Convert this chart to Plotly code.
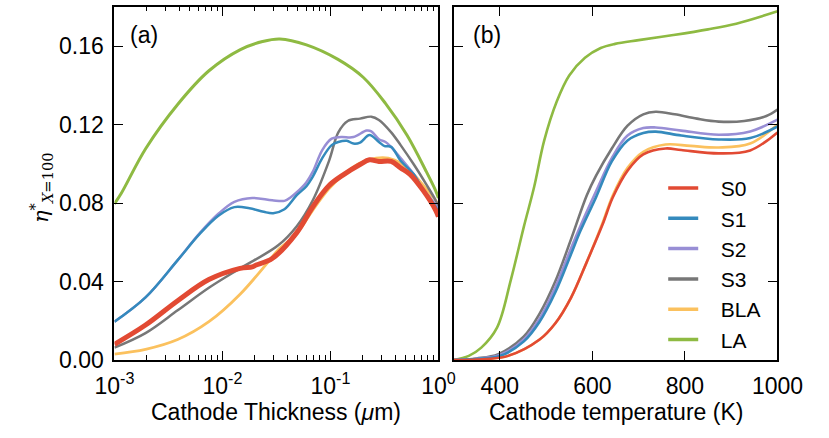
import plotly.graph_objects as go

# ---------------- data: panel (a) thickness sweep (um) ----------------
thk_s0 = [0.001, 0.00194, 0.00385, 0.00749, 0.01457, 0.0189, 0.0205, 0.0289, 0.0488, 0.0687, 0.0967, 0.1335, 0.188, 0.2299, 0.2812, 0.3653, 0.4468, 0.5464, 0.7246, 0.9414, 1.0]
eta_s0 = [0.0080, 0.0178, 0.0302, 0.0410, 0.0467, 0.0475, 0.0484, 0.0517, 0.0649, 0.0781, 0.0888, 0.0946, 0.0996, 0.1020, 0.1012, 0.1012, 0.0979, 0.0946, 0.0863, 0.0764, 0.0730]

thk_s1 = [0.001, 0.00194, 0.00385, 0.00613, 0.00917, 0.0129, 0.0178, 0.0241, 0.0295, 0.0375, 0.0488, 0.0597, 0.0687, 0.084, 0.1027, 0.1183, 0.1418, 0.1633, 0.188, 0.2299, 0.2812, 0.3173, 0.3653, 0.4468, 0.5923, 0.7246, 0.9414, 1.0]
eta_s1 = [0.0195, 0.0319, 0.0509, 0.0641, 0.0735, 0.0779, 0.0773, 0.0755, 0.0748, 0.0768, 0.0840, 0.0885, 0.0935, 0.1029, 0.1095, 0.1111, 0.1117, 0.1103, 0.1108, 0.1146, 0.1111, 0.1090, 0.1086, 0.1015, 0.0946, 0.0863, 0.0781, 0.0745]

thk_s2 = [0.001, 0.00194, 0.00385, 0.00613, 0.00917, 0.0129, 0.0189, 0.0289, 0.0375, 0.0432, 0.0488, 0.0597, 0.0687, 0.084, 0.1027, 0.1257, 0.1633, 0.2164, 0.2393, 0.2812, 0.3237, 0.3653, 0.4468, 0.5923, 0.7246, 0.9414, 1.0]
eta_s2 = [0.0195, 0.0319, 0.0509, 0.0645, 0.0745, 0.0806, 0.0826, 0.0814, 0.0811, 0.0831, 0.0855, 0.0905, 0.0960, 0.1070, 0.1128, 0.1136, 0.1136, 0.1169, 0.1165, 0.1125, 0.1111, 0.1085, 0.1029, 0.0946, 0.0870, 0.0790, 0.0755]

thk_s3 = [0.001, 0.00194, 0.00385, 0.00749, 0.01457, 0.0326, 0.0488, 0.0687, 0.0967, 0.1183, 0.1447, 0.188, 0.2393, 0.2812, 0.3653, 0.4468, 0.5923, 0.7697, 0.9414, 1.0]
eta_s3 = [0.0063, 0.0137, 0.0253, 0.0368, 0.0467, 0.0583, 0.0682, 0.0814, 0.1012, 0.1160, 0.1218, 0.1230, 0.1240, 0.1223, 0.1160, 0.1095, 0.0996, 0.0896, 0.0814, 0.0780]

thk_bla = [0.001, 0.00194, 0.00385, 0.00749, 0.01457, 0.0289, 0.0326, 0.0488, 0.0687, 0.0967, 0.1335, 0.188, 0.2647, 0.3439, 0.4468, 0.5923, 0.7697, 0.9414, 1.0]
eta_bla = [0.0030, 0.0054, 0.0104, 0.0195, 0.0335, 0.0525, 0.0560, 0.0645, 0.0764, 0.0872, 0.0946, 0.1004, 0.1029, 0.1029, 0.1004, 0.0946, 0.0872, 0.0814, 0.0790]

thk_la = [0.001, 0.00115, 0.00195, 0.00383, 0.0075, 0.01466, 0.0235, 0.034, 0.06, 0.1175, 0.201, 0.322, 0.514, 0.769, 0.942, 1.0]
eta_la = [0.0796, 0.0847, 0.1078, 0.1301, 0.1474, 0.1582, 0.1623, 0.1636, 0.1606, 0.1532, 0.1441, 0.1309, 0.1144, 0.0962, 0.0863, 0.0825]

# ---------------- data: panel (b) temperature sweep (K) ----------------
temp_s0 = [300, 350, 418, 486, 520, 554, 588, 622, 644, 676, 710, 758, 792, 873, 941, 1000]
tem_s0 = [0.0, 0.0002, 0.0021, 0.0104, 0.0187, 0.0318, 0.0500, 0.0690, 0.0828, 0.0965, 0.1048, 0.1078, 0.1070, 0.1053, 0.1068, 0.1160]

temp_s1 = [300, 350, 400, 452, 486, 520, 554, 574, 608, 642, 676, 710, 737, 792, 873, 941, 1000]
tem_s1 = [0.0, 0.0005, 0.002, 0.0095, 0.0195, 0.0345, 0.0540, 0.0657, 0.0830, 0.1012, 0.1119, 0.1157, 0.1164, 0.1144, 0.1124, 0.1131, 0.1190]

temp_s2 = [300, 350, 400, 452, 486, 520, 554, 574, 608, 642, 676, 710, 737, 792, 873, 941, 1000]
tem_s2 = [0.0, 0.0006, 0.0025, 0.0105, 0.0210, 0.0370, 0.0570, 0.0682, 0.0860, 0.1029, 0.1144, 0.1182, 0.1185, 0.1169, 0.1148, 0.1165, 0.1225]

temp_s3 = [300, 350, 397, 452, 486, 520, 554, 588, 608, 642, 676, 710, 737, 778, 826, 873, 928, 976, 1000]
tem_s3 = [0.0, 0.0008, 0.003, 0.012, 0.0236, 0.0401, 0.0616, 0.0840, 0.0940, 0.1078, 0.1194, 0.1252, 0.1265, 0.1252, 0.1230, 0.1215, 0.1218, 0.1243, 0.1276]

temp_bla = [300, 350, 418, 486, 520, 554, 588, 622, 644, 676, 710, 758, 812, 873, 941, 1000]
tem_bla = [0.0, 0.0002, 0.0021, 0.0104, 0.0187, 0.0318, 0.0500, 0.0698, 0.0838, 0.0979, 0.1061, 0.1098, 0.1091, 0.1083, 0.1103, 0.1200]

temp_la = [300, 333, 360, 394, 424, 452, 474, 496, 523, 550, 584, 618, 649, 700, 775, 850, 911, 1000]
tem_la = [0.0, 0.0021, 0.0063, 0.0165, 0.041, 0.068, 0.088, 0.1119, 0.1317, 0.145, 0.154, 0.159, 0.1611, 0.1630, 0.1656, 0.1685, 0.1714, 0.1777]

names = ["S0", "S1", "S2", "S3", "BLA", "LA"]
colors = ["#E24A33", "#348ABD", "#988ED5", "#777777", "#FBC15E", "#8EBA42"]
left = [(thk_s0, eta_s0), (thk_s1, eta_s1), (thk_s2, eta_s2), (thk_s3, eta_s3), (thk_bla, eta_bla), (thk_la, eta_la)]
right = [(temp_s0, tem_s0), (temp_s1, tem_s1), (temp_s2, tem_s2), (temp_s3, tem_s3), (temp_bla, tem_bla), (temp_la, tem_la)]
left_widths = [5, 2.5, 2.5, 2.5, 2.8, 3]

W, H = 829, 438
def px(x):
    return x / W
def py(y):
    return 1 - y / H

fig = go.Figure()
order = [5, 4, 3, 2, 1, 0]
for i in order:
    xs, ys = left[i]
    fig.add_trace(go.Scatter(x=xs, y=ys, mode="lines", name=names[i], showlegend=False,
                             line=dict(color=colors[i], width=left_widths[i], shape="spline", smoothing=1.0),
                             xaxis="x", yaxis="y"))
for i in order:
    xs, ys = right[i]
    fig.add_trace(go.Scatter(x=xs, y=ys, mode="lines", name=names[i], showlegend=False,
                             line=dict(color=colors[i], width=2.6, shape="spline", smoothing=1.0),
                             xaxis="x2", yaxis="y2"))
NB = "\u00a0\u00a0\u00a0"
for i in range(6):
    fig.add_trace(go.Scatter(x=[None], y=[None], mode="lines", name=NB + names[i], legendgroup=names[i],
                             line=dict(color=colors[i], width=3.5), xaxis="x2", yaxis="y2"))

FONT = "Liberation Sans, Arial, sans-serif"
TF = dict(family=FONT, size=23, color="black")
common = dict(showline=True, linecolor="black", linewidth=2, mirror="ticks", ticks="inside",
              ticklen=9, tickwidth=1.2, tickcolor="black", showgrid=False, zeroline=False,
              tickfont=TF, ticklabelstandoff=4)

minor_vals = [k * 10.0 ** e for e in (-3, -2, -1) for k in range(2, 10)]

fig.update_layout(
    width=W, height=H,
    margin=dict(l=0, r=0, t=0, b=0),
    paper_bgcolor="white", plot_bgcolor="white",
    font=dict(family=FONT, size=22, color="black"),
    xaxis=dict(type="log", range=[-3, 0], domain=[px(100), px(443)], anchor="y",
               tickvals=[0.001, 0.01, 0.1, 1], ticktext=["10<sup>-3</sup>", "10<sup>-2</sup>", "10<sup>-1</sup>", "10<sup>0</sup>"],
               minor=dict(tickvals=minor_vals, ticks="inside", ticklen=4.5, tickwidth=1, tickcolor="black", showgrid=False),
               **common),
    yaxis=dict(range=[0, 0.18], domain=[py(371), py(7)], anchor="x",
               tickvals=[0, 0.04, 0.08, 0.12, 0.16], tickformat=".2f", **common),
    xaxis2=dict(range=[300, 1000], domain=[px(459), px(802)], anchor="y2",
                tickvals=[400, 600, 800, 1000], **common),
    yaxis2=dict(range=[0, 0.18], domain=[py(371), py(7)], anchor="x2",
                tickvals=[0, 0.04, 0.08, 0.12, 0.16], showticklabels=False, **common),
    legend=dict(x=px(681), y=py(173), xanchor="left", yanchor="top", bgcolor="rgba(255,255,255,0)",
                borderwidth=0, font=dict(family=FONT, size=21, color="black"), tracegroupgap=0),
    annotations=[
        dict(text="(a)", x=px(114), y=py(36), xref="paper", yref="paper", xanchor="left", yanchor="middle",
             showarrow=False, font=dict(family=FONT, size=23, color="black")),
        dict(text="(b)", x=px(477), y=py(36), xref="paper", yref="paper", xanchor="left", yanchor="middle",
             showarrow=False, font=dict(family=FONT, size=23, color="black")),
        dict(text="Cathode Thickness (<i>μ</i>m)", x=px(271.5), y=py(425), xref="paper", yref="paper",
             xanchor="center", yanchor="middle", showarrow=False, font=dict(family=FONT, size=23, color="black")),
        dict(text="Cathode temperature (K)", x=px(630.5), y=py(425), xref="paper", yref="paper",
             xanchor="center", yanchor="middle", showarrow=False, font=dict(family=FONT, size=23, color="black")),
        dict(text="<i>η</i><sup>*</sup><sub><i>X</i>=100</sub>", x=px(22), y=py(193), xref="paper", yref="paper",
             xanchor="center", yanchor="middle", textangle=-90, showarrow=False,
             font=dict(family="DejaVu Serif, Liberation Serif, serif", size=21, color="black")),
    ],
)

fig.write_html("out.html")
